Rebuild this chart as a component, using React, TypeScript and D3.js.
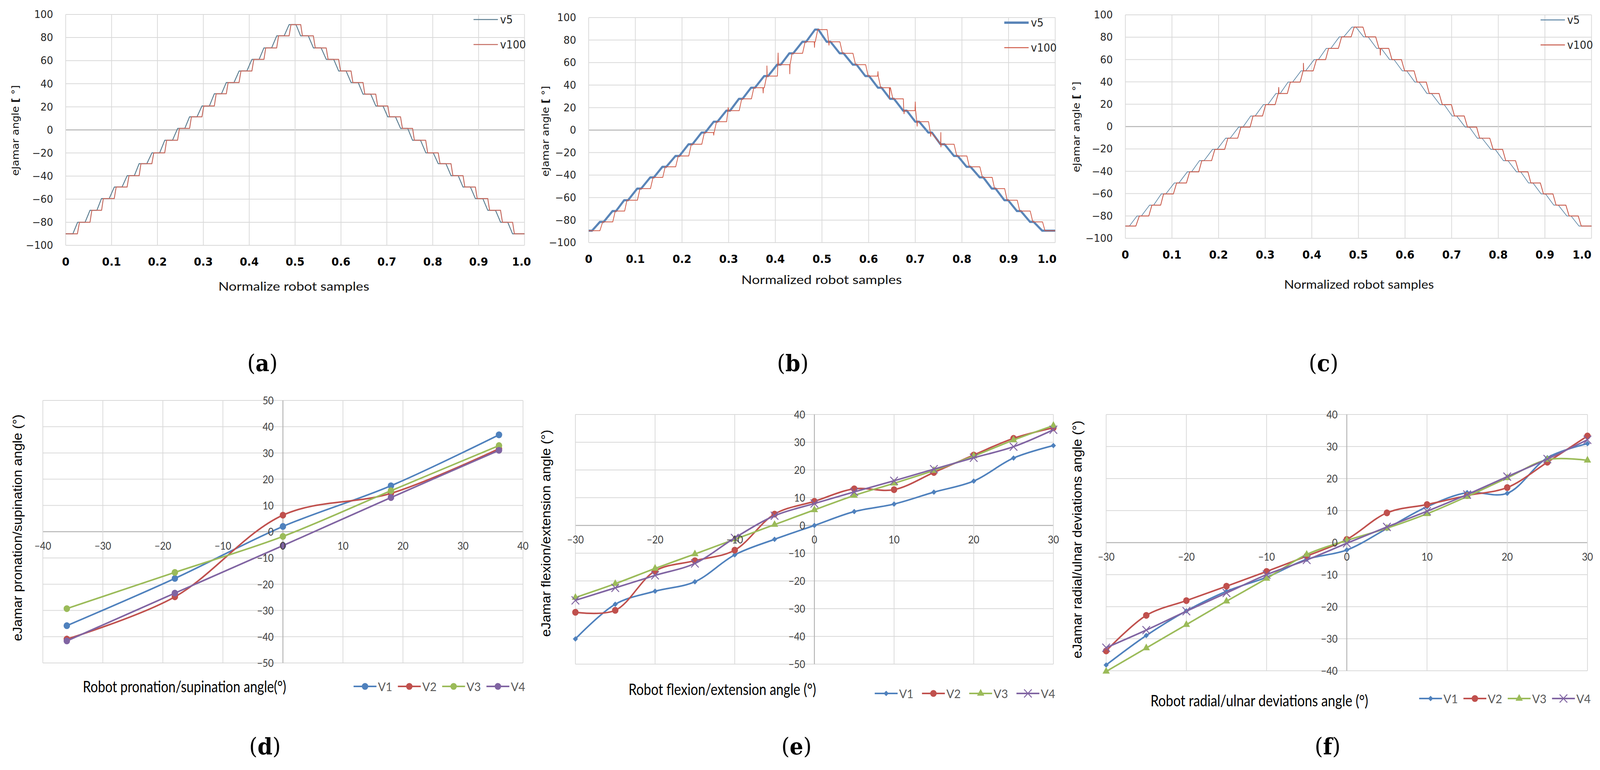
import React from 'react';
import * as d3 from 'd3';

const W = 4335;
const H = 1971;

// ---------- top row: eJamar angle vs normalized robot samples ----------
// x where each plateau of the staircase begins
const plateauStarts = [
  0, 0.030, 0.057, 0.082, 0.110, 0.138, 0.164, 0.192, 0.220, 0.248,
  0.274, 0.301, 0.328, 0.354, 0.382, 0.410, 0.436, 0.464, 0.491,
  0.516, 0.544, 0.572, 0.599, 0.626, 0.652, 0.680, 0.706, 0.734,
  0.760, 0.789, 0.816, 0.844, 0.870, 0.897, 0.924, 0.952, 0.978,
];
const levelsA = [
  -90, -80, -69.6, -59.5, -49.5, -39.7, -29.3, -19.9, -9, 1.3,
  11.3, 20.7, 31.3, 41, 51, 61.1, 71, 81.5, 91.2,
  81.5, 71, 61.1, 51, 41, 31, 20.7, 11.3, 1.3,
  -9, -19.9, -29.3, -39.7, -49.5, -59.5, -69.6, -80, -90,
];
const levelsB = [
  -89.4, -81.6, -72, -62.3, -52, -42, -32.6, -23, -12.6, -2.2,
  7.5, 17.3, 27.8, 37.7, 48, 58.2, 68.2, 78.5, 89.3,
  78.5, 68.2, 58.2, 48, 37.7, 27.8, 17.3, 7.5, -2.2,
  -12.6, -23, -32.6, -42, -52, -62.3, -72, -81.6, -89.4,
];
const levelsC = [
  -89, -80, -70.3, -60.3, -50.5, -40.5, -30.5, -20.4, -10.4, -0.5,
  9.5, 19.6, 29.6, 39.8, 49.9, 59.9, 70, 80.3, 89,
  80.3, 70, 59.9, 49.9, 39.8, 29.6, 19.6, 9.5, -0.5,
  -10.4, -20.4, -30.5, -40.5, -50.5, -60.3, -70.3, -80, -89,
];
// v100 glitches: [x, level, spike value]
const spikesB = [
  [0.268, -2.2, -4.5], [0.299, 17.3, 20], [0.374, 37.7, 33], [0.382, 48, 57],
  [0.406, 58.2, 68.5], [0.431, 58.2, 50], [0.484, 78.5, 73.5], [0.515, 78.5, 75.5],
  [0.620, 48, 52], [0.645, 37.7, 28], [0.676, 17.3, 14.5], [0.700, 17.3, 25],
  [0.704, 7.5, 3.5], [0.733, -2.2, -5.5], [0.755, -12.6, -15],
];
const spikesC = [[0.329, 29.6, 35], [0.382, 49.9, 56.6], [0.547, 70, 64]];

const stepTicksX = [0, 0.1, 0.2, 0.3, 0.4, 0.5, 0.6, 0.7, 0.8, 0.9, 1.0];
const stepTickLabelsX = ['0', '0.1', '0.2', '0.3', '0.4', '0.5', '0.6', '0.7', '0.8', '0.9', '1.0'];
const stepTicksY = [-100, -80, -60, -40, -20, 0, 20, 40, 60, 80, 100];

// ---------- bottom row: eJamar vs robot angle ----------
const seriesNames = ['V1', 'V2', 'V3', 'V4'];
const seriesColors = ['#4f81bd', '#c0504d', '#9bbb59', '#8064a2'];

const dAngles = [-36, -18, 0, 18, 36];
const dV1 = [-35.8, -17.8, 2, 17.5, 36.9];
const dV2 = [-40.9, -24.8, 6.3, 14.6, 31.6];
const dV3 = [-29.3, -15.5, -1.8, 15.6, 32.8];
const dV4 = [-41.6, -23.4, -5.3, 13, 31];
const dTicksX = [-40, -30, -20, -10, 0, 10, 20, 30, 40];
const dTicksY = [-50, -40, -30, -20, -10, 0, 10, 20, 30, 40, 50];

const eAngles = [-30, -25, -20, -15, -10, -5, 0, 5, 10, 15, 20, 25, 30];
const eV1 = [-40.9, -28.4, -23.7, -20.3, -10.6, -5, 0, 5, 7.7, 12, 16, 24.3, 28.8];
const eV2 = [-31.3, -30.6, -16.4, -12.7, -8.9, 4.1, 8.7, 13.2, 12.9, 19.1, 25.4, 31.4, 35.2];
const eV3 = [-26, -21, -15.5, -10.3, -5, 0.3, 5.6, 10.8, 15.2, 19.8, 25, 30.8, 36];
const eV4 = [-27, -22.5, -18, -13.7, -4.5, 3.5, 7.9, 12.1, 16.1, 20.3, 24.4, 28.4, 34.5];
const eTicksX = [-30, -20, -10, 0, 10, 20, 30];
const eTicksY = [-50, -40, -30, -20, -10, 0, 10, 20, 30, 40];

const fAngles = [-30, -25, -20, -15, -10, -5, 0, 5, 10, 15, 20, 25, 30];
const fV1 = [-38.2, -29, -21.3, -15.2, -10.8, -5.2, -2.3, 4.4, 11.2, 15.6, 15.4, 26.5, 30.9];
const fV2 = [-33.8, -22.7, -18.1, -13.6, -9, -4.2, 1, 9.3, 11.9, 14.7, 17.2, 25.1, 33.3];
const fV3 = [-40.2, -32.9, -25.6, -18.3, -11.2, -3.7, 0.7, 4.5, 9, 14.4, 20.2, 25.9, 25.7];
const fV4 = [-32.8, -27.3, -21.4, -15.7, -10, -5.4, -0.2, 4.9, 9.8, 15, 20.6, 26.1, 32.1];
const fTicksX = [-30, -20, -10, 0, 10, 20, 30];
const fTicksY = [-40, -30, -20, -10, 0, 10, 20, 30, 40];

const GRID = '#d9d9d9';
const AXIS = '#b3b3b3';
const fmt = (v: number) => (v < 0 ? '\u2212' + Math.abs(v) : String(v));

// build the staircase polyline from plateau levels
function stairs(levels: number[], flat: number, lead: number, spikes: number[][] = []) {
  const pts: [number, number][] = [];
  levels.forEach((lv, i) => {
    const last = i === levels.length - 1;
    const s = Math.max(0, plateauStarts[i] - lead);
    const next = last ? 1 : plateauStarts[i + 1] - lead;
    const e = last ? 1 : s + (next - s) * flat;
    pts.push([s, lv], [e, lv]);
  });
  spikes.forEach(([x, base, peak]) => {
    pts.push([x - 0.0006, base], [x, peak], [x + 0.0006, base]);
  });
  return pts.sort((a, b) => a[0] - b[0]);
}

function PanelLabel({ x, y, letter }) {
  return (
    <text x={x} y={y} textAnchor="middle" dominantBaseline="central"
      fontFamily="'DejaVu Serif', 'Liberation Serif', serif" fontSize={58} fill="#000">
      (<tspan fontWeight="bold">{letter}</tspan>)
    </text>
  );
}

function StepPanel({ box, levels, v5, v100, spikes, lastDx, xTitle, xTitleX, xTitleY, xTitleLen, yTitleX, yTitleY, label, labelX }) {
  const x = d3.scaleLinear().domain([0, 1]).range([box.x0, box.x1]);
  const y = d3.scaleLinear().domain([-100, 100]).range([box.y1, box.y0]);
  const line = d3.line<[number, number]>().x(d => x(d[0])).y(d => y(d[1]));
  const p5 = line(stairs(levels, v5.flat, v5.lead)) || '';
  const p100 = line(stairs(levels, v100.flat, v100.lead, spikes)) || '';
  const legX0 = box.x1 - 138;
  const legX1 = box.x1 - 72;
  const legY = [box.y0 + 13, box.y0 + 77];
  return (
    <g>
      {stepTicksY.map(t => (
        <line key={'gy' + t} x1={box.x0} x2={box.x1} y1={y(t)} y2={y(t)}
          stroke={t === 0 ? AXIS : GRID} strokeWidth={t === 0 ? 2.5 : 2} />
      ))}
      {stepTicksX.map(t => (
        <line key={'gx' + t} x1={x(t)} x2={x(t)} y1={box.y0} y2={box.y1} stroke={GRID} strokeWidth={2} />
      ))}
      <path d={p5} fill="none" stroke={v5.color} strokeWidth={v5.width} strokeLinejoin="round" />
      <path d={p100} fill="none" stroke={v100.color} strokeWidth={v100.width} strokeLinejoin="round" />
      {stepTicksY.map(t => (
        <text key={'ly' + t} x={box.x0 - 34} y={y(t)} textAnchor="end" dominantBaseline="central"
          fontFamily="'DejaVu Sans', sans-serif" fontSize={27} fill="#262626">{fmt(t)}</text>
      ))}
      {stepTicksX.map((t, i) => (
        <text key={'lx' + t} x={x(t) + (i === stepTicksX.length - 1 ? lastDx : 0)} y={box.y1 + 42}
          textAnchor="middle" dominantBaseline="central"
          fontFamily="'DejaVu Sans', sans-serif" fontWeight="bold" fontSize={29} fill="#000">{stepTickLabelsX[i]}</text>
      ))}
      {[v5, v100].map((s, i) => (
        <g key={'leg' + i}>
          <line x1={legX0} x2={legX1} y1={legY[i]} y2={legY[i]} stroke={s.color} strokeWidth={s.legendWidth} />
          <text x={legX1 + 6} y={legY[i]} dominantBaseline="central"
            fontFamily="'DejaVu Sans', sans-serif" fontSize={28} fill="#262626">{i === 0 ? 'v5' : 'v100'}</text>
        </g>
      ))}
      <text x={xTitleX} y={xTitleY} textAnchor="middle" dominantBaseline="central"
        fontFamily="Lato, 'Open Sans', sans-serif" fontSize={30} fill="#111"
        textLength={xTitleLen} lengthAdjust="spacingAndGlyphs">{xTitle}</text>
      <text transform={`translate(${yTitleX},${yTitleY}) rotate(-90)`} textAnchor="middle" dominantBaseline="central"
        fontFamily="'DejaVu Sans', sans-serif" fontSize={27} fill="#111">
        eJamar angle <tspan fontWeight="bold">[</tspan> °]
      </text>
      <PanelLabel x={labelX} y={929} letter={label} />
    </g>
  );
}

function markerPath(kind: string) {
  const types = {
    circle: [d3.symbolCircle, 240],
    diamond: [d3.symbolDiamond2 || d3.symbolDiamond, 125],
    triangle: [d3.symbolTriangle, 170],
    x: [d3.symbolX || d3.symbolCross, 280],
  };
  const [type, size] = types[kind];
  return d3.symbol().type(type).size(size)() || '';
}

function AnglePanel({ box, xDomain, yDomain, ticksX, ticksY, xs, ys, markers, legendX, legendY, legendStep,
  xTitle, xTitleX, xTitleY, xTitleLen, yTitle, yTitleX, yTitleY, yTitleLen, label, labelX }) {
  const x = d3.scaleLinear().domain(xDomain).range([box.x0, box.x1]);
  const y = d3.scaleLinear().domain(yDomain).range([box.y1, box.y0]);
  const line = d3.line<number>().x((_, i) => x(xs[i])).y(d => y(d)).curve(d3.curveCatmullRom.alpha(0.5));
  const mark = (kind: string, color: string, cx: number, cy: number, k: string) =>
    kind === 'x'
      ? <path key={k} d={markerPath(kind)} transform={`translate(${cx},${cy})`} fill="none" stroke={color} strokeWidth={2.5} />
      : <path key={k} d={markerPath(kind)} transform={`translate(${cx},${cy})`} fill={color} />;
  return (
    <g>
      {ticksY.map(t => (
        <line key={'gy' + t} x1={box.x0} x2={box.x1} y1={y(t)} y2={y(t)}
          stroke={t === 0 ? AXIS : GRID} strokeWidth={t === 0 ? 2.5 : 2} />
      ))}
      {ticksX.map(t => (
        <line key={'gx' + t} x1={x(t)} x2={x(t)} y1={box.y0} y2={box.y1}
          stroke={t === 0 ? AXIS : GRID} strokeWidth={t === 0 ? 2.5 : 2} />
      ))}
      {ys.map((vals, si) => (
        <g key={'s' + si}>
          <path d={line(vals) || ''} fill="none" stroke={seriesColors[si]} strokeWidth={4} strokeLinejoin="round" />
          {vals.map((v, i) => mark(markers[si], seriesColors[si], x(xs[i]), y(v), 'm' + i))}
        </g>
      ))}
      {ticksY.map(t => (
        <text key={'ly' + t} x={x(0) - 25} y={y(t)} textAnchor="end" dominantBaseline="central"
          fontFamily="Lato, Carlito, sans-serif" fontSize={26} fill="#404040">{fmt(t)}</text>
      ))}
      {ticksX.map(t => (
        <text key={'lx' + t} x={x(t)} y={y(0) + 36} textAnchor="middle" dominantBaseline="central"
          fontFamily="Lato, Carlito, sans-serif" fontSize={26} fill="#404040">{fmt(t)}</text>
      ))}
      {seriesNames.map((n, si) => {
        const lx = legendX + si * legendStep;
        return (
          <g key={'lg' + n}>
            <line x1={lx} x2={lx + 62} y1={legendY} y2={legendY} stroke={seriesColors[si]} strokeWidth={4} />
            {mark(markers[si], seriesColors[si], lx + 31, legendY, 'lm' + n)}
            <text x={lx + 66} y={legendY} dominantBaseline="central"
              fontFamily="Lato, Carlito, sans-serif" fontSize={31} fill="#595959">{n}</text>
          </g>
        );
      })}
      <text x={xTitleX} y={xTitleY} textAnchor="middle" dominantBaseline="central"
        fontFamily="Lato, Carlito, sans-serif" fontSize={40} fill="#000"
        textLength={xTitleLen} lengthAdjust="spacingAndGlyphs">{xTitle}</text>
      <text transform={`translate(${yTitleX},${yTitleY}) rotate(-90)`} textAnchor="middle" dominantBaseline="central"
        fontFamily="'Liberation Sans', Arial, sans-serif" fontSize={36} fill="#000"
        textLength={yTitleLen} lengthAdjust="spacingAndGlyphs">{yTitle}</text>
      <PanelLabel x={labelX} y={1910} letter={label} />
    </g>
  );
}

export default function App() {
  // the svg is stretched over the whole viewport so the drawing always fits the photographed window
  return (
    <svg viewBox={`0 0 ${W} ${H}`} preserveAspectRatio="none"
      style={{ position: 'fixed', left: 0, top: 0, width: '100vw', height: '100vh', background: '#fff', display: 'block' }}>
      <rect width={W} height={H} fill="#fff" />
      <StepPanel box={{ x0: 178, x1: 1421, y0: 37, y1: 628 }} levels={levelsA} spikes={[]} lastDx={-8}
        v5={{ color: '#5d7f92', width: 2.5, legendWidth: 2.5, flat: 0.6, lead: 0.004 }}
        v100={{ color: '#c46a5f', width: 2.5, legendWidth: 2.5, flat: 0.85, lead: 0 }}
        xTitle="Normalize robot samples" xTitleX={796} xTitleY={732} xTitleLen={409}
        yTitleX={42} yTitleY={334} label="a" labelX={711} />
      <StepPanel box={{ x0: 1595, x1: 2859, y0: 45, y1: 621 }} levels={levelsB} spikes={spikesB} lastDx={-22}
        v5={{ color: '#5a85b8', width: 5.5, legendWidth: 6, flat: 0.3, lead: 0.006 }}
        v100={{ color: '#cf5a47', width: 2, legendWidth: 2.5, flat: 0.8, lead: 0 }}
        xTitle="Normalized robot samples" xTitleX={2226} xTitleY={715} xTitleLen={435}
        yTitleX={1478} yTitleY={336} label="b" labelX={2148} />
      <StepPanel box={{ x0: 3049, x1: 4312, y0: 38, y1: 610 }} levels={levelsC} spikes={spikesC} lastDx={-26}
        v5={{ color: '#5b84a3', width: 1.8, legendWidth: 2.5, flat: 0.35, lead: 0.005 }}
        v100={{ color: '#c7594a', width: 2.2, legendWidth: 2.5, flat: 0.75, lead: 0 }}
        xTitle="Normalized robot samples" xTitleX={3682} xTitleY={727} xTitleLen={406}
        yTitleX={2916} yTitleY={325} label="c" labelX={3586} />

      <AnglePanel box={{ x0: 116, x1: 1417, y0: 1025, y1: 1697 }} xDomain={[-40, 40]} yDomain={[-50, 50]}
        ticksX={dTicksX} ticksY={dTicksY} xs={dAngles} ys={[dV1, dV2, dV3, dV4]}
        markers={['circle', 'circle', 'circle', 'circle']}
        legendX={958} legendY={1757} legendStep={120}
        xTitle="Robot pronation/supination angle(°)" xTitleX={500} xTitleY={1757} xTitleLen={551}
        yTitle="eJamar pronation/supination angle (°)" yTitleX={46} yTitleY={1351} yTitleLen={580}
        label="d" labelX={718} />
      <AnglePanel box={{ x0: 1559, x1: 2854, y0: 1061, y1: 1700 }} xDomain={[-30, 30]} yDomain={[-50, 40]}
        ticksX={eTicksX} ticksY={eTicksY} xs={eAngles} ys={[eV1, eV2, eV3, eV4]}
        markers={['diamond', 'circle', 'triangle', 'x']}
        legendX={2370} legendY={1775} legendStep={128}
        xTitle="Robot flexion/extension angle (°)" xTitleX={1957} xTitleY={1764} xTitleLen={508}
        yTitle="eJamar flexion/extension angle (°)" yTitleX={1478} yTitleY={1365} yTitleLen={530}
        label="e" labelX={2158} />
      <AnglePanel box={{ x0: 2997, x1: 4301, y0: 1061, y1: 1717 }} xDomain={[-30, 30]} yDomain={[-40, 40]}
        ticksX={fTicksX} ticksY={fTicksY} xs={fAngles} ys={[fV1, fV2, fV3, fV4]}
        markers={['diamond', 'circle', 'triangle', 'x']}
        legendX={3845} legendY={1788} legendStep={120}
        xTitle="Robot radial/ulnar deviations angle (°)" xTitleX={3412} xTitleY={1793} xTitleLen={590}
        yTitle="eJamar radial/ulnar deviations angle (°)" yTitleX={2918} yTitleY={1381} yTitleLen={609}
        label="f" labelX={3597} />
    </svg>
  );
}
